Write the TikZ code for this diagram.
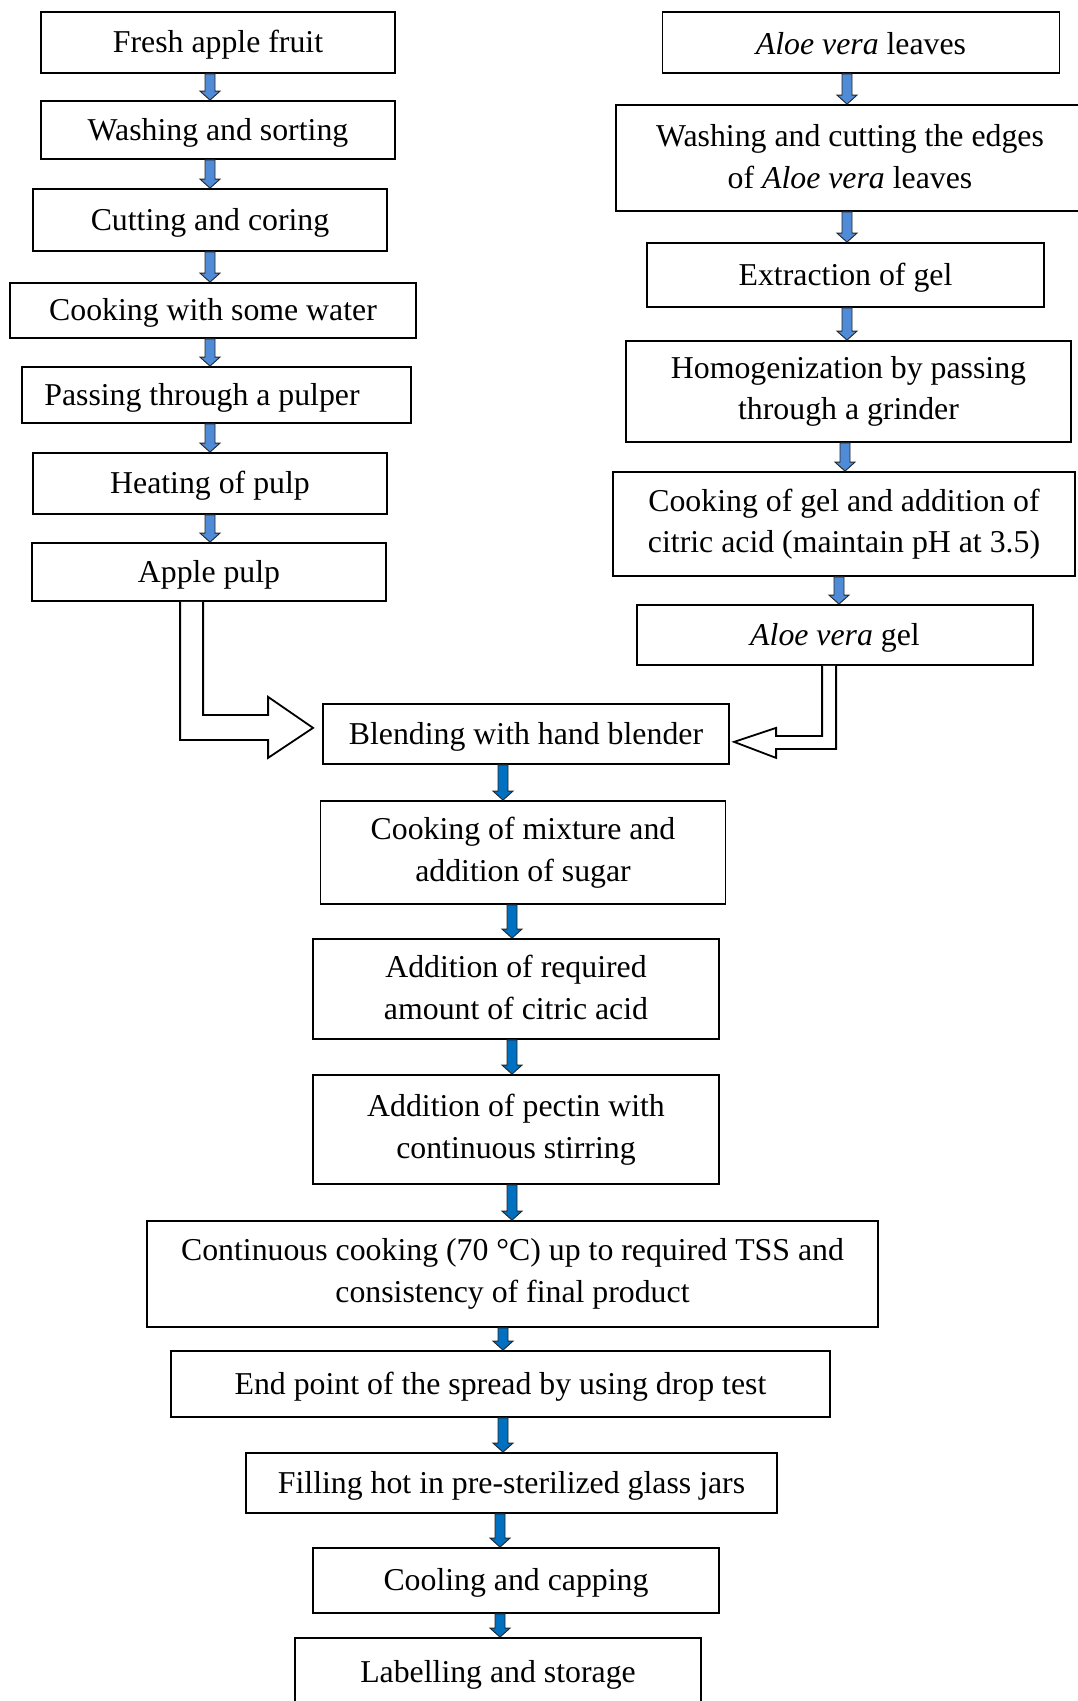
\documentclass[tikz,border=0pt]{standalone}
\usepackage{fontspec}
\setmainfont{Liberation Serif}
\usetikzlibrary{calc}
\definecolor{flowlight}{RGB}{79,139,214}
\definecolor{flowdark}{RGB}{0,112,192}
\tikzset{
  stepbox/.style={draw, line width=1.8pt, fill=white, inner sep=0pt, align=center,
    font=\fontsize{31.8pt}{41.5pt}\selectfont,
    execute at begin node={\rule{0pt}{0.85em}},
    execute at end node={\rule[-0.1em]{0pt}{0pt}}},
  flow/.style={draw=black!85, line width=0.9pt, fill=#1,
    to path={-- ++(-5,0) -- ($(\tikztotarget)+(-5,-9)$) -- ($(\tikztotarget)+(-10,-9)$)
      -- (\tikztotarget) -- ($(\tikztotarget)+(10,-9)$) -- ($(\tikztotarget)+(5,-9)$)
      -- ($(\tikztostart)+(5,0)$) -- cycle}},
  flow/.default=flowlight,
  hollow/.style={draw, line width=1.8pt, fill=white, line join=miter}
}
\begin{document}
\begin{tikzpicture}[x=1pt,y=-1pt]
  \useasboundingbox[fill=white] (0,0) rectangle (1078,1701);
  % apple side
  \node[stepbox, minimum width=354pt, minimum height=61pt] (fresh) at (218,42.5) {Fresh apple fruit};
  \node[stepbox, minimum width=354pt, minimum height=58pt] (wash) at (218,130) {Washing and sorting};
  \node[stepbox, minimum width=354pt, minimum height=62pt] (cut) at (210,220) {Cutting and coring};
  \node[stepbox, minimum width=406pt, minimum height=55pt] (water) at (213,310.5) {Cooking with some water};
  \node[stepbox, minimum width=389pt, minimum height=56pt] (pulper) at (216.5,395) {Passing through a pulper\hspace*{29pt}};
  \node[stepbox, minimum width=354pt, minimum height=61pt] (heat) at (210,483.5) {Heating of pulp};
  \node[stepbox, minimum width=354pt, minimum height=58pt] (pulp) at (209,572) {Apple pulp};
  % aloe side
  \node[stepbox, minimum width=397pt, minimum height=61pt] (leaves) at (861,42.5) {\textit{Aloe vera} leaves};
  \node[stepbox, minimum width=468pt, minimum height=106pt] (edges) at (850,158) {Washing and cutting the edges\\of \textit{Aloe vera} leaves};
  \node[stepbox, minimum width=397pt, minimum height=64pt] (extract) at (845.5,275) {Extraction of gel};
  \node[stepbox, minimum width=445pt, minimum height=101pt] (grind) at (848.5,391.5) {Homogenization by passing\\through a grinder};
  \node[stepbox, minimum width=462pt, minimum height=104pt] (acidgel) at (844,524) {Cooking of gel and addition of\\citric acid (maintain pH at 3.5)};
  \node[stepbox, minimum width=396pt, minimum height=60pt] (gel) at (835,635) {\textit{Aloe vera} gel};
  % common line
  \node[stepbox, minimum width=406pt, minimum height=60pt] (blend) at (526,734) {Blending with hand blender};
  \node[stepbox, minimum width=405pt, minimum height=103pt] (sugar) at (523,852.5) {Cooking of mixture and\\addition of sugar};
  \node[stepbox, minimum width=406pt, minimum height=100pt] (citric) at (516,989) {Addition of required\\amount of citric acid};
  \node[stepbox, minimum width=406pt, minimum height=109pt] (pectin) at (516,1129.5) {Addition of pectin with\\continuous stirring};
  \node[stepbox, minimum width=731pt, minimum height=106pt] (tss) at (512.5,1274) {Continuous cooking (70 °C) up to required TSS and\\consistency of final product};
  \node[stepbox, minimum width=659pt, minimum height=66pt] (drop) at (500.5,1384) {End point of the spread by using drop test};
  \node[stepbox, minimum width=531pt, minimum height=60pt] (jars) at (511.5,1483) {Filling hot in pre-sterilized glass jars};
  \node[stepbox, minimum width=406pt, minimum height=65pt] (capping) at (516,1580.5) {Cooling and capping};
  \node[stepbox, minimum width=406pt, minimum height=68pt] (storage) at (498,1672) {Labelling and storage};
  % arrow columns
  \coordinate (lcol) at (210,0);
  \coordinate (rcola) at (847,0);
  \coordinate (rcolb) at (845,0);
  \coordinate (rcolc) at (839,0);
  \coordinate (ccola) at (503,0);
  \coordinate (ccolb) at (512,0);
  \coordinate (ccolc) at (500,0);
  \draw[flow] (fresh.south -| lcol) to (wash.north -| lcol);
  \draw[flow] (wash.south -| lcol) to (cut.north -| lcol);
  \draw[flow] (cut.south -| lcol) to (water.north -| lcol);
  \draw[flow] (water.south -| lcol) to (pulper.north -| lcol);
  \draw[flow] (pulper.south -| lcol) to (heat.north -| lcol);
  \draw[flow] (heat.south -| lcol) to (pulp.north -| lcol);
  \draw[flow] (leaves.south -| rcola) to (edges.north -| rcola);
  \draw[flow] (edges.south -| rcola) to (extract.north -| rcola);
  \draw[flow] (extract.south -| rcola) to (grind.north -| rcola);
  \draw[flow] (grind.south -| rcolb) to (acidgel.north -| rcolb);
  \draw[flow] (acidgel.south -| rcolc) to (gel.north -| rcolc);
  \draw[flow=flowdark] (blend.south -| ccola) to (sugar.north -| ccola);
  \draw[flow=flowdark] (sugar.south -| ccolb) to (citric.north -| ccolb);
  \draw[flow=flowdark] (citric.south -| ccolb) to (pectin.north -| ccolb);
  \draw[flow=flowdark] (pectin.south -| ccolb) to (tss.north -| ccolb);
  \draw[flow=flowdark] (tss.south -| ccola) to (drop.north -| ccola);
  \draw[flow=flowdark] (drop.south -| ccola) to (jars.north -| ccola);
  \draw[flow=flowdark] (jars.south -| ccolc) to (capping.north -| ccolc);
  \draw[flow=flowdark] (capping.south -| ccolc) to (storage.north -| ccolc);
  % hollow arrows into blending
  \draw[hollow] ($(pulp.south west)+(149,0)$) -- ++(0,138) -- ++(88,0) -- ++(0,18)
    -- ++(45,-30) -- ++(-45,-31) -- ++(0,18) -- ++(-65,0) -- ++(0,-113);
  \draw[hollow] ($(gel.south west)+(200,0)$) -- ++(0,83) -- ++(-60,0) -- ++(0,9)
    -- ++(-42,-16) -- ++(42,-14) -- ++(0,8) -- ++(46,0) -- ++(0,-70);
\end{tikzpicture}
\end{document}
